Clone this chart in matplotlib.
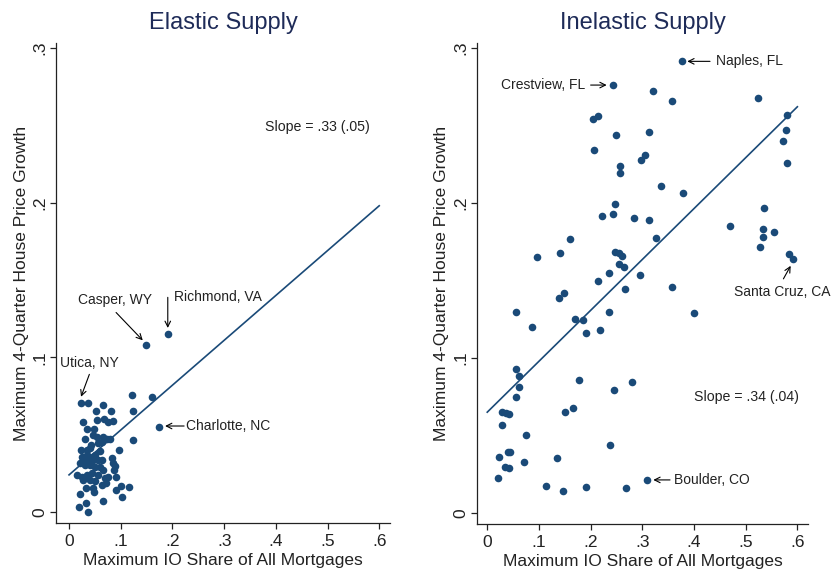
"""IO mortgage share vs. house price growth, elastic vs inelastic supply."""

import matplotlib
matplotlib.use('Agg')
import matplotlib.pyplot as plt

plt.rcParams['font.family'] = ['Liberation Sans', 'DejaVu Sans']

# Elastic supply MSAs: (max IO share, max 4-quarter price growth)
elastic_x = [0.0226, 0.0374, 0.1213, 0.160, 0.0652, 0.0517, 0.0813, 0.1245,
             0.0265, 0.0535, 0.0677, 0.0761, 0.0845, 0.0342, 0.049, 0.1748,
             0.0471, 0.0548, 0.0664, 0.0729, 0.0794, 0.031, 0.1245, 0.0426,
             0.0568, 0.0632, 0.0226, 0.0342, 0.0406, 0.0968, 0.060, 0.0245,
             0.0342, 0.0439, 0.0503, 0.0277, 0.0374, 0.0471, 0.0568, 0.0632,
             0.0826, 0.0845, 0.089, 0.0871, 0.0213, 0.031, 0.0406, 0.0503,
             0.060, 0.0664, 0.0148, 0.0245, 0.0342, 0.0439, 0.0568, 0.0697,
             0.0761, 0.091, 0.0277, 0.0406, 0.0503, 0.0632, 0.0716, 0.0323,
             0.0471, 0.1006, 0.1161, 0.091, 0.1032, 0.0213, 0.0484, 0.0652,
             0.020, 0.0329, 0.0374, 0.149, 0.191]
elastic_y = [0.0702, 0.0702, 0.0756, 0.0741, 0.0692, 0.0653, 0.0653, 0.0653,
             0.058, 0.0595, 0.0601, 0.0584, 0.0588, 0.0537, 0.0537, 0.0552,
             0.0498, 0.0483, 0.0487, 0.0472, 0.0472, 0.0472, 0.0465, 0.0433,
             0.0444, 0.0455, 0.0401, 0.0401, 0.0412, 0.0401, 0.0396, 0.0358,
             0.0368, 0.0358, 0.0368, 0.0336, 0.0336, 0.0336, 0.0336, 0.0336,
             0.0347, 0.0315, 0.0297, 0.0271, 0.0315, 0.0304, 0.0304, 0.0293,
             0.0293, 0.0271, 0.0239, 0.0228, 0.0239, 0.025, 0.0239, 0.0218,
             0.0228, 0.0224, 0.0207, 0.0207, 0.0203, 0.0175, 0.019, 0.0153,
             0.0153, 0.0171, 0.0164, 0.0142, 0.0099, 0.0116, 0.0127, 0.0073,
             0.0034, 0.0056, 0.0, 0.108, 0.115]

# Inelastic supply MSAs
inelastic_x = [0.244, 0.32, 0.377, 0.3575, 0.5245, 0.215, 0.205, 0.250,
               0.3135, 0.207, 0.305, 0.297, 0.256, 0.256, 0.5806, 0.578,
               0.573, 0.5806, 0.3368, 0.3793, 0.248, 0.222, 0.244, 0.283,
               0.3135, 0.5355, 0.4697, 0.5336, 0.534, 0.5543, 0.5284, 0.3265,
               0.5845, 0.591, 0.247, 0.255, 0.2607, 0.2555, 0.264, 0.235,
               0.2955, 0.160, 0.0968, 0.1407, 0.2148, 0.2665, 0.1484, 0.138,
               0.055, 0.1703, 0.1846, 0.236, 0.0859, 0.1904, 0.2175, 0.0555,
               0.0619, 0.0619, 0.0555, 0.1775, 0.280, 0.2458, 0.029, 0.0356,
               0.0426, 0.029, 0.1497, 0.1665, 0.0743, 0.2368, 0.0226, 0.0408,
               0.044, 0.0716, 0.1343, 0.0343, 0.0426, 0.0207, 0.1142, 0.1465,
               0.1916, 0.268, 0.3097, 0.357, 0.40]
inelastic_y = [0.276, 0.272, 0.2913, 0.2655, 0.2674, 0.256, 0.254, 0.244,
               0.2457, 0.234, 0.231, 0.2275, 0.224, 0.219, 0.257, 0.247,
               0.240, 0.226, 0.2112, 0.2064, 0.1995, 0.1915, 0.1926, 0.190,
               0.189, 0.197, 0.185, 0.1831, 0.178, 0.181, 0.1715, 0.1776,
               0.1668, 0.1637, 0.1685, 0.1674, 0.166, 0.1608, 0.1588, 0.155,
               0.1534, 0.1765, 0.1653, 0.1679, 0.1498, 0.1442, 0.1416, 0.1388,
               0.1295, 0.1252, 0.1243, 0.1293, 0.1198, 0.1162, 0.1181, 0.0929,
               0.0881, 0.0813, 0.0748, 0.0855, 0.0847, 0.0793, 0.0653, 0.0642,
               0.0638, 0.0567, 0.0651, 0.0677, 0.0504, 0.044, 0.0362, 0.039,
               0.039, 0.0328, 0.0354, 0.0299, 0.0291, 0.0226, 0.0175, 0.014,
               0.017, 0.016, 0.0213, 0.146, 0.129]

# fitted lines (endpoints)
elastic_fit_x = [0.0, 0.6]
elastic_fit_y = [0.024, 0.198]
inelastic_fit_x = [0.0, 0.6]
inelastic_fit_y = [0.065, 0.262]

x_ticks = [0, 0.1, 0.2, 0.3, 0.4, 0.5, 0.6]
x_labels = ['0', '.1', '.2', '.3', '.4', '.5', '.6']
y_ticks = [0, 0.1, 0.2, 0.3]
y_labels = ['0', '.1', '.2', '.3']

DOT = '#1a4a78'
TITLE = '#1e2b58'
INK = '#222222'

fig = plt.figure(figsize=(8.31, 5.72), dpi=100)
ax1 = fig.add_axes([0.0674, 0.0857, 0.402, 0.839])
ax2 = fig.add_axes([0.5736, 0.0840, 0.399, 0.841])


def style(ax, title, xmin):
    ax.set_xlim(xmin, 0.621)
    ax.set_ylim(-0.0071, 0.3032)
    for s in ['top', 'right']:
        ax.spines[s].set_visible(False)
    for s in ['left', 'bottom']:
        ax.spines[s].set_color(INK)
        ax.spines[s].set_linewidth(0.9)
    ax.set_xticks(x_ticks)
    ax.set_xticklabels(x_labels)
    ax.set_yticks(y_ticks)
    ax.set_yticklabels(y_labels, rotation=90, va='center')
    ax.tick_params(direction='out', length=4, width=0.9, color=INK,
                   labelsize=12.5, labelcolor=INK, pad=2)
    ax.tick_params(axis='x', pad=4)
    ax.set_xlabel('Maximum IO Share of All Mortgages', fontsize=12.5,
                  color=INK, labelpad=3)
    ax.set_ylabel('Maximum 4-Quarter House Price Growth', fontsize=12.5,
                  color=INK, labelpad=3)
    ax.set_title(title, fontsize=17, color=TITLE, pad=10)


def note(ax, label, tail, head, text_xy, ha='left'):
    ax.annotate('', xy=head, xytext=tail,
                arrowprops=dict(arrowstyle='->', color='black', lw=0.8,
                                shrinkA=0, shrinkB=0))
    ax.text(text_xy[0], text_xy[1], label, fontsize=10, ha=ha,
            va='center', color=INK)


# Elastic panel
ax1.scatter(elastic_x, elastic_y, s=30, color=DOT, zorder=3, linewidths=0)
ax1.plot(elastic_fit_x, elastic_fit_y, color=DOT, lw=1.2, zorder=2)
style(ax1, 'Elastic Supply', -0.0252)
ax1.text(0.379, 0.249, 'Slope = .33 (.05)', fontsize=10.2, va='center',
         color=INK)
note(ax1, 'Casper, WY', (0.091, 0.129), (0.1426, 0.111), (0.017, 0.137))
note(ax1, 'Richmond, VA', (0.191, 0.1388), (0.191, 0.119), (0.203, 0.139))
note(ax1, 'Utica, NY', (0.0393, 0.089), (0.0232, 0.0745), (-0.017, 0.0963))
note(ax1, 'Charlotte, NC', (0.2226, 0.0556), (0.1858, 0.0556),
     (0.2264, 0.0556))

# Inelastic panel
ax2.scatter(inelastic_x, inelastic_y, s=30, color=DOT, zorder=3, linewidths=0)
ax2.plot(inelastic_fit_x, inelastic_fit_y, color=DOT, lw=1.2, zorder=2)
style(ax2, 'Inelastic Supply', -0.0205)
ax2.text(0.40, 0.0745, 'Slope = .34 (.04)', fontsize=10.2, va='center',
         color=INK)
note(ax2, 'Crestview, FL', (0.200, 0.276), (0.231, 0.276), (0.1893, 0.276),
     ha='right')
note(ax2, 'Naples, FL', (0.431, 0.2913), (0.387, 0.2913), (0.442, 0.2913))
note(ax2, 'Santa Cruz, CA', (0.573, 0.151), (0.587, 0.1594), (0.4775, 0.1424))
note(ax2, 'Boulder, CO', (0.3536, 0.0213), (0.3213, 0.0213), (0.362, 0.0213))

fig.savefig('out.png', dpi=100, facecolor='white')
